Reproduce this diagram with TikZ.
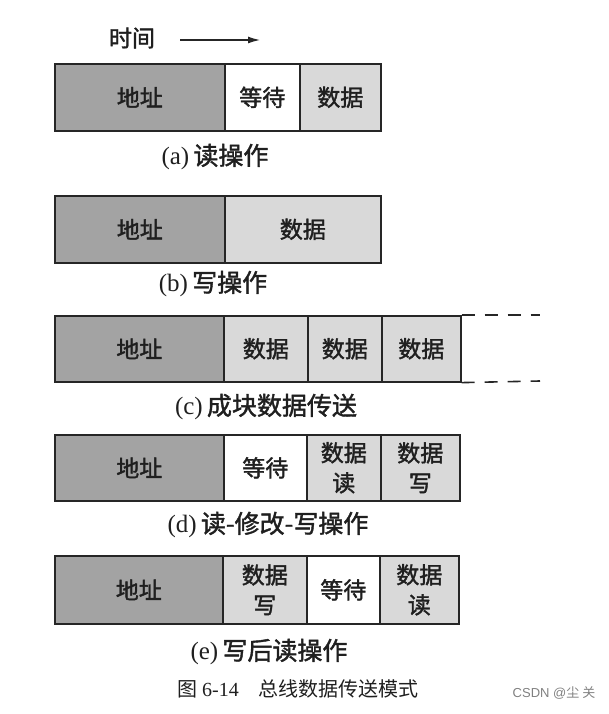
\documentclass[tikz,border=0pt]{standalone}
\usepackage{fontspec}
\setmainfont{Liberation Serif}
\newfontfamily\cjk{Noto Sans CJK SC}
\newfontfamily\cjkb[FakeBold=1.6]{Noto Sans CJK SC}
\newfontfamily\wmfont{Liberation Sans}
\usetikzlibrary{arrows.meta}
\definecolor{addrgray}{gray}{0.64}
\definecolor{datagray}{gray}{0.85}
\definecolor{edgec}{gray}{0.15}
\definecolor{ink}{gray}{0.12}
\begin{document}
\begin{tikzpicture}[x=1pt,y=-1pt,
  cell/.style={draw=edgec, line width=1.6pt, minimum height=67pt, inner sep=0pt,
    anchor=north west, text=ink, align=center, font=\cjkb\fontsize{23}{30}\selectfont},
  addr/.style={cell, fill=addrgray},
  dat/.style={cell, fill=datagray},
  waitc/.style={cell, fill=white},
  sublabel/.style={text=ink, font=\fontsize{25}{29}\selectfont},
  dashline/.style={draw=edgec, line width=1.6pt, dash pattern=on 13pt off 10pt},
]
\useasboundingbox (0,0) rectangle (609,714);

% time arrow
\node[text=ink, font=\cjkb\fontsize{23}{27}\selectfont] (time) at (132,38) {时间};
\coordinate (arrS) at (180,40);
\coordinate (arrE) at (260,40);
\draw[draw=edgec, line width=1.2pt, -{Latex[length=12pt,width=7pt]}] (arrS) -- (arrE);

% (a)
\node[addr, minimum width=170pt] (a1) at (54,63) {地址};
\node[waitc, minimum width=75pt] (a2) at (224,63) {等待};
\node[dat, minimum width=81pt] (a3) at (299,63) {数据};
\node[sublabel] (la) at (215,157) {(a)\,{\cjkb 读操作}};

% (b)
\node[addr, minimum width=170pt] (b1) at (54,195) {地址};
\node[dat, minimum width=156pt] (b2) at (224,195) {数据};
\node[sublabel] (lb) at (213,284) {(b)\,{\cjkb 写操作}};

% (c)
\node[addr, minimum width=169pt, minimum height=66pt] (c1) at (54,315) {地址};
\node[dat, minimum width=84pt, minimum height=66pt] (c2) at (223,315) {数据};
\node[dat, minimum width=74pt, minimum height=66pt] (c3) at (307,315) {数据};
\node[dat, minimum width=79pt, minimum height=66pt] (c4) at (381,315) {数据};
\coordinate (cTop) at (540,315);
\coordinate (cBot) at (540,381);
\draw[dashline] (c4.north east) -- (cTop);
\draw[dashline] (c4.south east) -- (cBot);
\node[sublabel] (lc) at (266,407) {(c)\,{\cjkb 成块数据传送}};

% (d)
\node[addr, minimum width=169pt, minimum height=66pt] (d1) at (54,434) {地址};
\node[waitc, minimum width=83pt, minimum height=66pt] (d2) at (223,434) {等待};
\node[dat, minimum width=74pt, minimum height=66pt] (d3) at (306,434) {数据\\读};
\node[dat, minimum width=79pt, minimum height=66pt] (d4) at (380,434) {数据\\写};
\node[sublabel] (ld) at (268,525) {(d)\,{\cjkb 读-修改-写操作}};

% (e)
\node[addr, minimum width=168pt, minimum height=68pt] (e1) at (54,555) {地址};
\node[dat, minimum width=84pt, minimum height=68pt] (e2) at (222,555) {数据\\写};
\node[waitc, minimum width=73pt, minimum height=68pt] (e3) at (306,555) {等待};
\node[dat, minimum width=79pt, minimum height=68pt] (e4) at (379,555) {数据\\读};
\node[sublabel] (le) at (269,652) {(e)\,{\cjkb 写后读操作}};

% caption
\node[text=ink, font=\fontsize{20}{24}\selectfont] (fig) at (298,689) {{\cjk 图} 6-14\quad{\cjk 总线数据传送模式}};

% watermark
\node[text=gray, font=\wmfont\fontsize{13}{15}\selectfont] (wm) at (554,693) {CSDN @{\cjk 尘 关}};
\end{tikzpicture}
\end{document}
